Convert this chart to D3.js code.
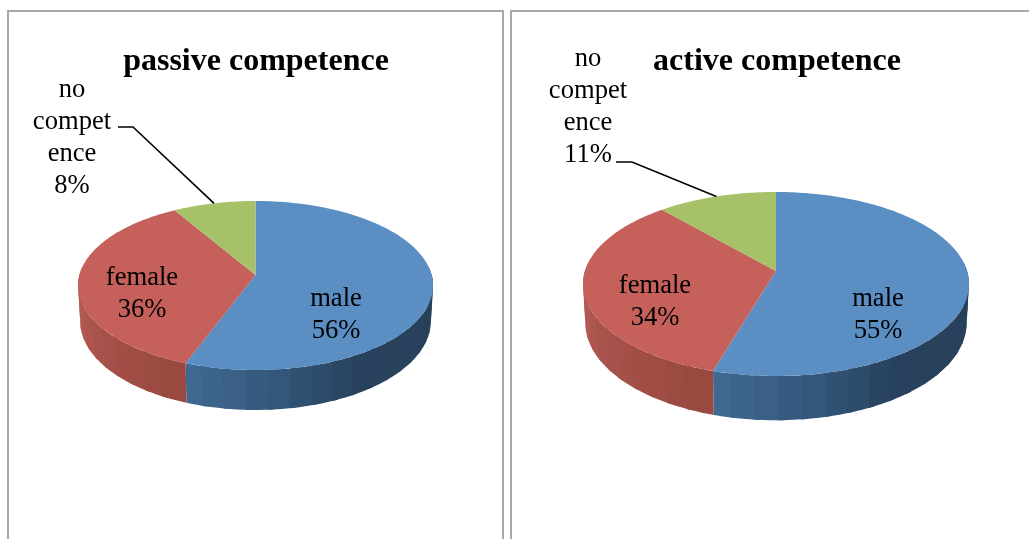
<!DOCTYPE html>
<html><head><meta charset="utf-8">
<script src="https://cdn.jsdelivr.net/npm/d3@7/dist/d3.min.js"></script>
<style>html,body{margin:0;padding:0;background:#fff;overflow:hidden}svg{display:block;filter:blur(0.35px)}text{font-family:"Liberation Serif",serif;fill:#000}</style>
</head><body><svg id="c" width="1029" height="539"></svg>
<script>
const categories = ["male", "female", "no competence"];
const passiveValues = [55.7, 35.81, 8.49];
const activeValues = [54.6, 33.91, 11.49];
const titles = ["passive competence", "active competence"];
const colors = ["#5b8fc4", "#c5605b", "#a6c168"];
const sideStops = [
  [[0, "#27405a"], [0.55, "#28425d"], [0.75, "#33577a"], [1, "#426b94"]],
  [[0, "#98483f"], [0.5, "#a9534d"], [1, "#bb655c"]]
];
const panels = [
  {values: passiveValues, title: titles[0], box: [8, 11, 503, 560], titleX: 256, titleY: 70,
   cx: 255.5, cy: 275, top: 201, bottom: 370, left: 78, right: 433, depth: 35,
   labels: [{x: 336, y: 306, lines: ["male"]}, {x: 142, y: 285, lines: ["female"]}, {x: 72, y: 97, lines: ["no", "compet", "ence"]}],
   elbow: [[118, 127], [133, 127]]},
  {values: activeValues, title: titles[1], box: [511, 11, 1060, 560], titleX: 777, titleY: 70,
   cx: 776, cy: 271, top: 192, bottom: 376, left: 584, right: 970, depth: 38,
   labels: [{x: 878, y: 306, lines: ["male"]}, {x: 655, y: 293, lines: ["female"]}, {x: 588, y: 66, lines: ["no", "compet", "ence"]}],
   elbow: [[616, 162], [632, 162]]}
];
const lineHeight = 32;
const svg = d3.select("#c");
const pie = d3.pie().sort(null).startAngle(0).endAngle(2 * Math.PI);
const line = d3.line();

panels.forEach(p => {
  const [x0, y0, x1, y1] = p.box;
  svg.append("rect").attr("x", x0).attr("y", y0).attr("width", x1 - x0).attr("height", y1 - y0)
    .attr("fill", "#fff").attr("stroke", "#a8a8a8").attr("stroke-width", 2);

  // perspective projection of the pie's plane
  const up = p.cy - p.top, down = p.bottom - p.cy;
  const k = (down - up) / (down + up);
  const a = up * (1 + k);
  const b = ((p.right - p.left) / 2) * Math.sqrt(1 - k * k);
  const project = (t, z = 0) => {
    const u = Math.sin(t), v = -Math.cos(t), w = 1 - k * v;
    const shrink = 1 - 0.012 * z;
    return [p.cx + (b * shrink * u) / w, p.cy + (a * v) / w + (z * p.depth) / w];
  };
  const arcs = pie(p.values);

  // extruded side: each band runs under the next one so no seams show
  arcs.slice(0, 2).forEach((s, i) => {
    const from = Math.max(s.startAngle, Math.PI / 2 - 0.1);
    const to = Math.min(s.endAngle, 3 * Math.PI / 2 + 0.1);
    const stops = sideStops[i];
    const tone = d3.scaleLinear().domain(stops.map(d => from + d[0] * (to - from))).range(stops.map(d => d[1]));
    const n = Math.max(2, Math.round((to - from) / 0.11));
    const angles = d3.range(n + 1).map(j => from + ((to - from) * j) / n);
    svg.append("g").selectAll("path").data(d3.pairs(angles).reverse()).join("path")
      .attr("d", ([t0, t1]) => {
        const end = Math.min(t1 + 0.03, to);
        const m = d3.range(7).map(j => t0 + ((end - t0) * j) / 6);
        return line([...m.map(t => project(t, 0)), ...m.slice().reverse().map(t => project(t, 1))]) + "Z";
      })
      .attr("fill", d => tone((d[0] + d[1]) / 2));
  });

  // top face
  svg.append("g").selectAll("path").data(arcs).join("path")
    .attr("d", s => {
      const n = Math.ceil((s.endAngle - s.startAngle) / 0.02);
      const pts = d3.range(n + 1).map(j => project(s.startAngle + ((s.endAngle - s.startAngle) * j) / n));
      return line([[p.cx, p.cy], ...pts]) + "Z";
    })
    .attr("fill", (s, i) => colors[i]);

  // leader line to the last slice
  const last = arcs[arcs.length - 1];
  svg.append("path")
    .attr("d", line([...p.elbow, project((last.startAngle + last.endAngle) / 2)]))
    .attr("fill", "none").attr("stroke", "#000").attr("stroke-width", 1.6);

  svg.append("text").attr("x", p.titleX).attr("y", p.titleY).attr("text-anchor", "middle")
    .attr("font-size", 32).attr("font-weight", "bold").text(p.title);

  p.labels.forEach((l, i) => {
    const rows = [...l.lines, Math.round(p.values[i]) + "%"];
    const t = svg.append("text").attr("text-anchor", "middle").attr("font-size", 26.6);
    rows.forEach((r, j) => t.append("tspan").attr("x", l.x).attr("y", l.y + j * lineHeight).text(r));
  });
});
</script></body></html>
